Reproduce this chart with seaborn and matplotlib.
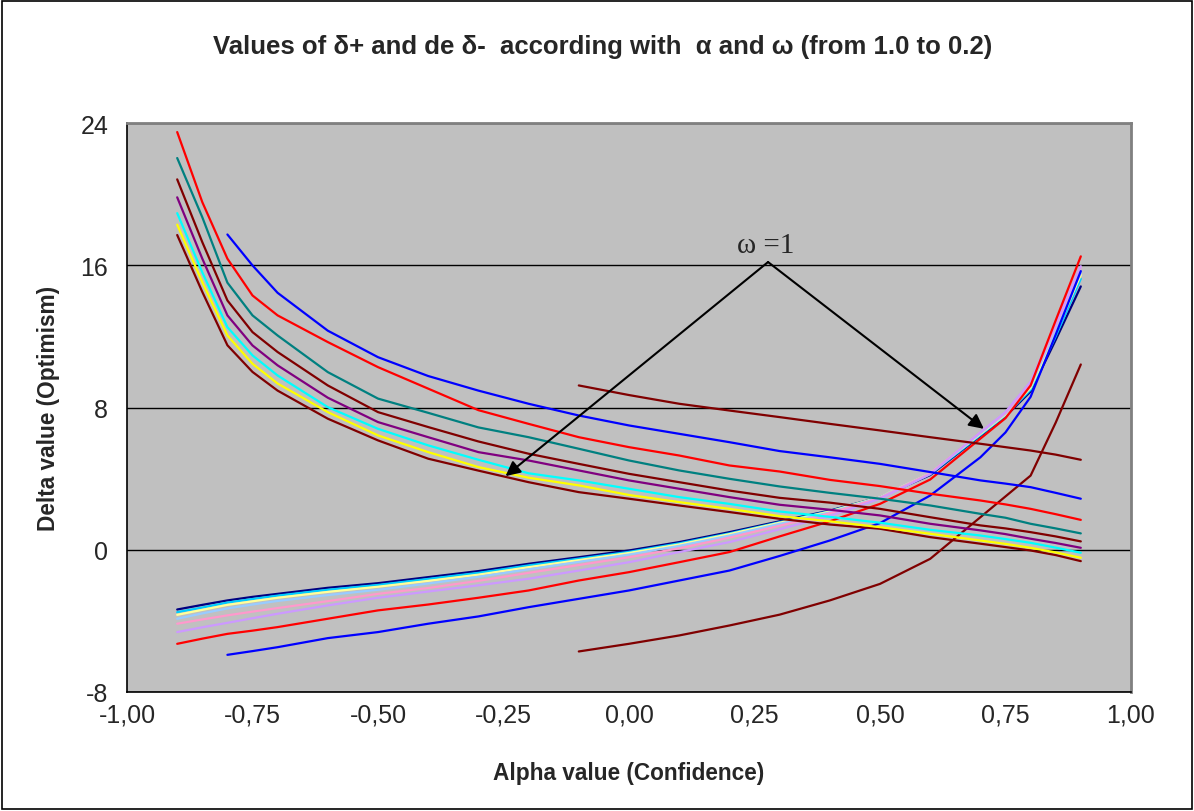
import numpy as np
import matplotlib
matplotlib.use("Agg")
import matplotlib.pyplot as plt
import seaborn as sns
from matplotlib.patches import Rectangle

sns.set_style("white")
plt.rcParams['font.family'] = ['Liberation Sans', 'DejaVu Sans']
plt.rcParams['axes.unicode_minus'] = False

nan = np.nan

# alpha grid (confidence)
alpha = [-0.9, -0.85, -0.8, -0.75, -0.7, -0.6, -0.5, -0.4, -0.3, -0.2, -0.1, 0.0,
         0.1, 0.2, 0.3, 0.4, 0.5, 0.6, 0.7, 0.75, 0.8, 0.85, 0.9]

# delta+ for omega = 1.0 ... 0.2
dplus_w10 = [17.7, 14.5, 11.5, 10.0, 8.95, 7.37, 6.15, 5.12, 4.45, 3.8, 3.24, 2.87,
             2.49, 2.12, 1.74, 1.42, 1.18, 0.71, 0.34, 0.15, -0.04, -0.3, -0.64]
dplus_w09 = [18.28, 15.05, 12.05, 10.46, 9.35, 7.74, 6.43, 5.49, 4.65, 4.05, 3.62, 3.08,
             2.68, 2.3, 1.89, 1.6, 1.27, 0.9, 0.52, 0.33, 0.11, -0.15, -0.45]
dplus_w08 = [18.93, 15.6, 12.52, 10.93, 9.8, 8.02, 6.8, 5.87, 5.06, 4.3, 3.9, 3.43,
             2.96, 2.58, 2.15, 1.85, 1.52, 1.12, 0.8, 0.6, 0.39, 0.12, -0.17]
dplus_w07 = [19.82, 16.37, 13.18, 11.49, 10.37, 8.55, 7.18, 6.33, 5.49, 5.02, 4.46, 3.9,
             3.43, 2.96, 2.53, 2.25, 1.93, 1.46, 1.09, 0.88, 0.62, 0.38, 0.11]
dplus_w06 = [20.83, 17.3, 14.02, 12.24, 11.12, 9.24, 7.74, 6.9, 6.09, 5.4, 4.83, 4.27,
             3.8, 3.33, 2.92, 2.65, 2.3, 1.83, 1.37, 1.2, 0.99, 0.75, 0.47]
dplus_w05 = [22.03, 18.7, 15.02, 13.18, 12.05, 9.99, 8.5, 7.7, 6.88, 6.33, 5.68, 5.02,
             4.46, 3.99, 3.56, 3.2, 2.87, 2.49, 2.02, 1.8, 1.46, 1.2, 0.92]
dplus_w04 = [23.49, 19.55, 16.37, 14.3, 13.18, 11.68, 10.27, 9.06, 7.85, 7.08, 6.33, 5.77,
             5.3, 4.74, 4.4, 3.93, 3.58, 3.15, 2.77, 2.55, 2.3, 2.0, 1.68]
dplus_w03 = [nan, nan, 17.73, 15.99, 14.45, 12.32, 10.83, 9.77, 8.95, 8.21, 7.55, 6.99,
             6.52, 6.05, 5.55, 5.2, 4.83, 4.37, 3.9, 3.72, 3.52, 3.2, 2.87]
dplus_w02 = [nan, nan, nan, nan, nan, nan, nan, nan, nan, nan, 9.24, 8.7,
             8.21, 7.83, 7.46, 7.08, 6.71, 6.33, 5.96, 5.77, 5.58, 5.35, 5.06]

# delta- for omega = 1.0 ... 0.2
dminus_w10 = [-3.36, -3.1, -2.85, -2.65, -2.48, -2.14, -1.88, -1.54, -1.2, -0.79, -0.42, -0.04,
              0.43, 0.99, 1.6, 2.2, 2.96, 4.2, 6.4, 7.5, 8.9, 11.8, 14.81]
dminus_w09 = [-3.51, -3.25, -2.97, -2.77, -2.58, -2.25, -1.98, -1.64, -1.3, -0.88, -0.5, -0.12,
              0.36, 0.92, 1.55, 2.17, 2.95, 4.25, 6.45, 7.55, 9.0, 12.0, 15.24]
dminus_w08 = [-3.66, -3.38, -3.1, -2.9, -2.7, -2.37, -2.08, -1.75, -1.4, -0.98, -0.58, -0.18,
              0.3, 0.88, 1.52, 2.15, 2.97, 4.3, 6.5, 7.6, 9.1, 12.2, 15.45]
dminus_w07 = [-3.88, -3.58, -3.3, -3.08, -2.88, -2.55, -2.25, -1.9, -1.52, -1.1, -0.68, -0.27,
              0.22, 0.8, 1.46, 2.1, 2.95, 4.3, 6.55, 7.65, 9.2, 12.4, 15.6]
dminus_w06 = [-4.16, -3.92, -3.69, -3.48, -3.28, -2.89, -2.48, -2.15, -1.75, -1.3, -0.86, -0.42,
              0.08, 0.68, 1.35, 2.05, 2.92, 4.3, 6.6, 7.7, 9.35, 12.6, 15.9]
dminus_w05 = [-4.63, -4.36, -4.11, -3.85, -3.6, -3.13, -2.7, -2.35, -2.0, -1.63, -1.17, -0.7,
              -0.13, 0.43, 1.15, 1.9, 2.87, 4.25, 6.6, 7.75, 9.45, 12.7, 15.95]
dminus_w04 = [-5.29, -5.0, -4.73, -4.55, -4.35, -3.88, -3.41, -3.08, -2.7, -2.29, -1.73, -1.26,
              -0.7, -0.13, 0.75, 1.6, 2.58, 3.95, 6.25, 7.4, 9.24, 12.9, 16.5]
dminus_w03 = [nan, nan, -5.91, -5.7, -5.48, -4.97, -4.63, -4.16, -3.75, -3.23, -2.76, -2.29,
              -1.73, -1.17, -0.35, 0.52, 1.5, 3.05, 5.2, 6.6, 8.6, 12.1, 15.67]
dminus_w02 = [nan, nan, nan, nan, nan, nan, nan, nan, nan, nan, -5.72, -5.29,
              -4.82, -4.26, -3.65, -2.85, -1.92, -0.51, 1.83, 3.0, 4.17, 7.15, 10.42]

xticks = [-1.0, -0.75, -0.5, -0.25, 0.0, 0.25, 0.5, 0.75, 1.0]
xtick_labels = ['-1,00', '-0,75', '-0,50', '-0,25', '0,00', '0,25', '0,50', '0,75', '1,00']
yticks = [-8, 0, 8, 16, 24]

delta_plus = [dplus_w10, dplus_w09, dplus_w08, dplus_w07, dplus_w06,
              dplus_w05, dplus_w04, dplus_w03, dplus_w02]
delta_minus = [dminus_w10, dminus_w09, dminus_w08, dminus_w07, dminus_w06,
               dminus_w05, dminus_w04, dminus_w03, dminus_w02]
plus_colors = ['#800000', '#FFFF00', '#00FFFF', '#800080', '#800000',
               '#008080', '#FF0000', '#0000FF', '#800000']
minus_colors = ['#000080', '#00CCFF', '#FFFF99', '#99CCFF', '#FF99CC',
                '#CC99FF', '#FF0000', '#0000FF', '#800000']

fig = plt.figure(figsize=(11.94, 8.12), dpi=100)
ax = fig.add_axes([127 / 1194, 1 - 693 / 812, 1004 / 1194, 569 / 812])
ax.set_facecolor('#C0C0C0')

# gridlines first so curves sit on top
ax.set_yticks(yticks)
ax.yaxis.grid(True, color='black', lw=1)
ax.set_axisbelow(True)

for vals, col in zip(delta_minus, minus_colors):
    sns.lineplot(x=alpha, y=vals, color=col, lw=1.6, ax=ax, legend=False, estimator=None)
for vals, col in zip(delta_plus, plus_colors):
    sns.lineplot(x=alpha, y=vals, color=col, lw=1.6, ax=ax, legend=False, estimator=None)

ax.set_xlim(-1, 1)
ax.set_ylim(-8, 24)
ax.set_xticks(xticks)
ax.set_xticklabels(xtick_labels)
ax.tick_params(axis='both', direction='out', length=4.5, width=1, color='black', labelsize=18)
ax.tick_params(axis='x', pad=3)
ax.tick_params(axis='y', pad=9)

for side in ['left', 'bottom']:
    ax.spines[side].set_color('black')
    ax.spines[side].set_linewidth(1.2)
for side in ['top', 'right']:
    ax.spines[side].set_color('#808080')
    ax.spines[side].set_linewidth(2)

ax.set_xlabel('Alpha value (Confidence)', fontsize=16.3, fontweight='bold', labelpad=25)
ax.set_ylabel('Delta value (Optimism)', fontsize=16.3, fontweight='bold', labelpad=15)

fig.text(0.505, 0.942, 'Values of δ+ and de δ-  according with  α and ω (from 1.0 to 0.2)',
         ha='center', va='center', fontsize=18.5, fontweight='bold')

# omega = 1 annotation
apex = (0.277, 16.18)
ax.text(0.272, 16.75, 'ω =1', family=['Liberation Serif', 'DejaVu Serif'], fontsize=21,
        ha='center', va='baseline')
for tip in [(-0.246, 4.14), (0.707, 6.8)]:
    ax.annotate('', xy=tip, xytext=apex,
                arrowprops=dict(arrowstyle='-|>', color='black', lw=1.5,
                                mutation_scale=22, shrinkA=0, shrinkB=0))

fig.patches.append(Rectangle((0.002, 0.002), 0.996, 0.996, transform=fig.transFigure,
                             fill=False, edgecolor='black', lw=1.2))

fig.savefig('out.png', dpi=100)
